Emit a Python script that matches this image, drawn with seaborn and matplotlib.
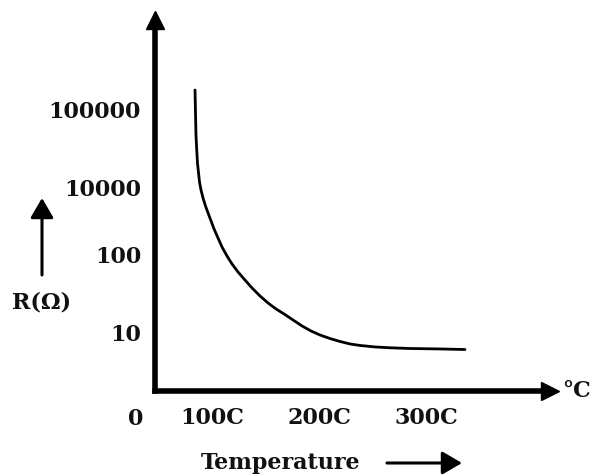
import numpy as np
import pandas as pd
import seaborn as sns
import matplotlib.pyplot as plt

# thermistor curve (temperature in C, y in schematic level units)
temp = [84.1, 84.6, 85.0, 85.7, 86.4, 87.4, 88.3, 89.7, 91.6, 93.9, 96.3,
        99.1, 101.9, 105.6, 109.3, 114.0, 118.7, 124.3, 130.8, 137.4, 144.9,
        152.3, 159.8, 167.3, 175.7, 184.1, 192.5, 200.9, 210.3, 219.6, 229.0,
        238.3, 252.3, 266.4, 285.0, 313.1, 336.4]
level = [4.115, 3.795, 3.538, 3.346, 3.179, 3.051, 2.936, 2.833, 2.731, 2.628,
         2.538, 2.436, 2.333, 2.218, 2.103, 1.987, 1.885, 1.782, 1.679, 1.577,
         1.474, 1.385, 1.308, 1.244, 1.167, 1.090, 1.026, 0.974, 0.929, 0.891,
         0.859, 0.840, 0.821, 0.810, 0.801, 0.795, 0.788]

x_ticks = [100, 200, 300]
x_labels = ['100C', '200C', '300C']
y_ticks = [1.0, 2.0, 2.87, 3.86]
y_labels = ['10', '100', '10000', '100000']

df = pd.DataFrame({'temp': temp, 'level': level})

sns.set_style('white')
plt.rcParams['font.family'] = ['DejaVu Serif']
plt.rcParams['font.weight'] = 'bold'
ink = '#111111'
fs = 16

fig = plt.figure(figsize=(5.92, 4.76), dpi=100)
ax = fig.add_axes([155 / 592, 1 - 391 / 476, (550 - 155) / 592, (391 - 20) / 476])

sns.lineplot(data=df, x='temp', y='level', ax=ax, color='black', lw=2.0,
             sort=False, estimator=None)

ax.set_xlim(46.7, 415.9)
ax.set_ylim(0.256, 5.013)

for side in ['top', 'right']:
    ax.spines[side].set_visible(False)
for side in ['left', 'bottom']:
    ax.spines[side].set_linewidth(4)
    ax.spines[side].set_color('black')

# arrow heads on the axes
ax.plot(1, 0, '>', color='black', ms=13, transform=ax.transAxes, clip_on=False)
ax.plot(0, 1, '^', color='black', ms=13, transform=ax.transAxes, clip_on=False)

ax.set_xticks(x_ticks)
ax.set_xticklabels(x_labels, fontsize=fs, fontweight='bold', color=ink)
ax.set_yticks(y_ticks)
ax.set_yticklabels(y_labels, fontsize=fs, fontweight='bold', color=ink)
ax.tick_params(axis='x', direction='inout', length=13, width=2.2, pad=5, colors='black',
               labelcolor=ink)
ax.tick_params(axis='y', direction='inout', length=14, width=2.8, pad=3, colors='black',
               labelcolor=ink)
ax.set_xlabel('')
ax.set_ylabel('')

# extra labels
fig.text(136 / 592, 1 - 419 / 476, '0', ha='center', va='center', fontsize=fs,
         fontweight='bold', color=ink)
fig.text(577 / 592, 1 - 391 / 476, '°C', ha='center', va='center', fontsize=fs,
         fontweight='bold', color=ink)
fig.text(281 / 592, 1 - 463 / 476, 'Temperature', ha='center', va='center', fontsize=fs,
         fontweight='bold', color=ink)
fig.text(42 / 592, 1 - 303 / 476, 'R(Ω)', ha='center', va='center', fontsize=fs,
         fontweight='bold', color=ink)

arrow = dict(arrowstyle='-|>,head_length=0.6,head_width=0.35', lw=2.2, color='black',
             shrinkA=0, shrinkB=0, mutation_scale=20)
ax.annotate('', xy=(462 / 592, 1 - 463 / 476), xytext=(387 / 592, 1 - 463 / 476),
            xycoords='figure fraction', textcoords='figure fraction', arrowprops=arrow)
ax.annotate('', xy=(42 / 592, 1 - 198 / 476), xytext=(42 / 592, 1 - 275 / 476),
            xycoords='figure fraction', textcoords='figure fraction', arrowprops=arrow)

fig.savefig('out.png', dpi=100)
